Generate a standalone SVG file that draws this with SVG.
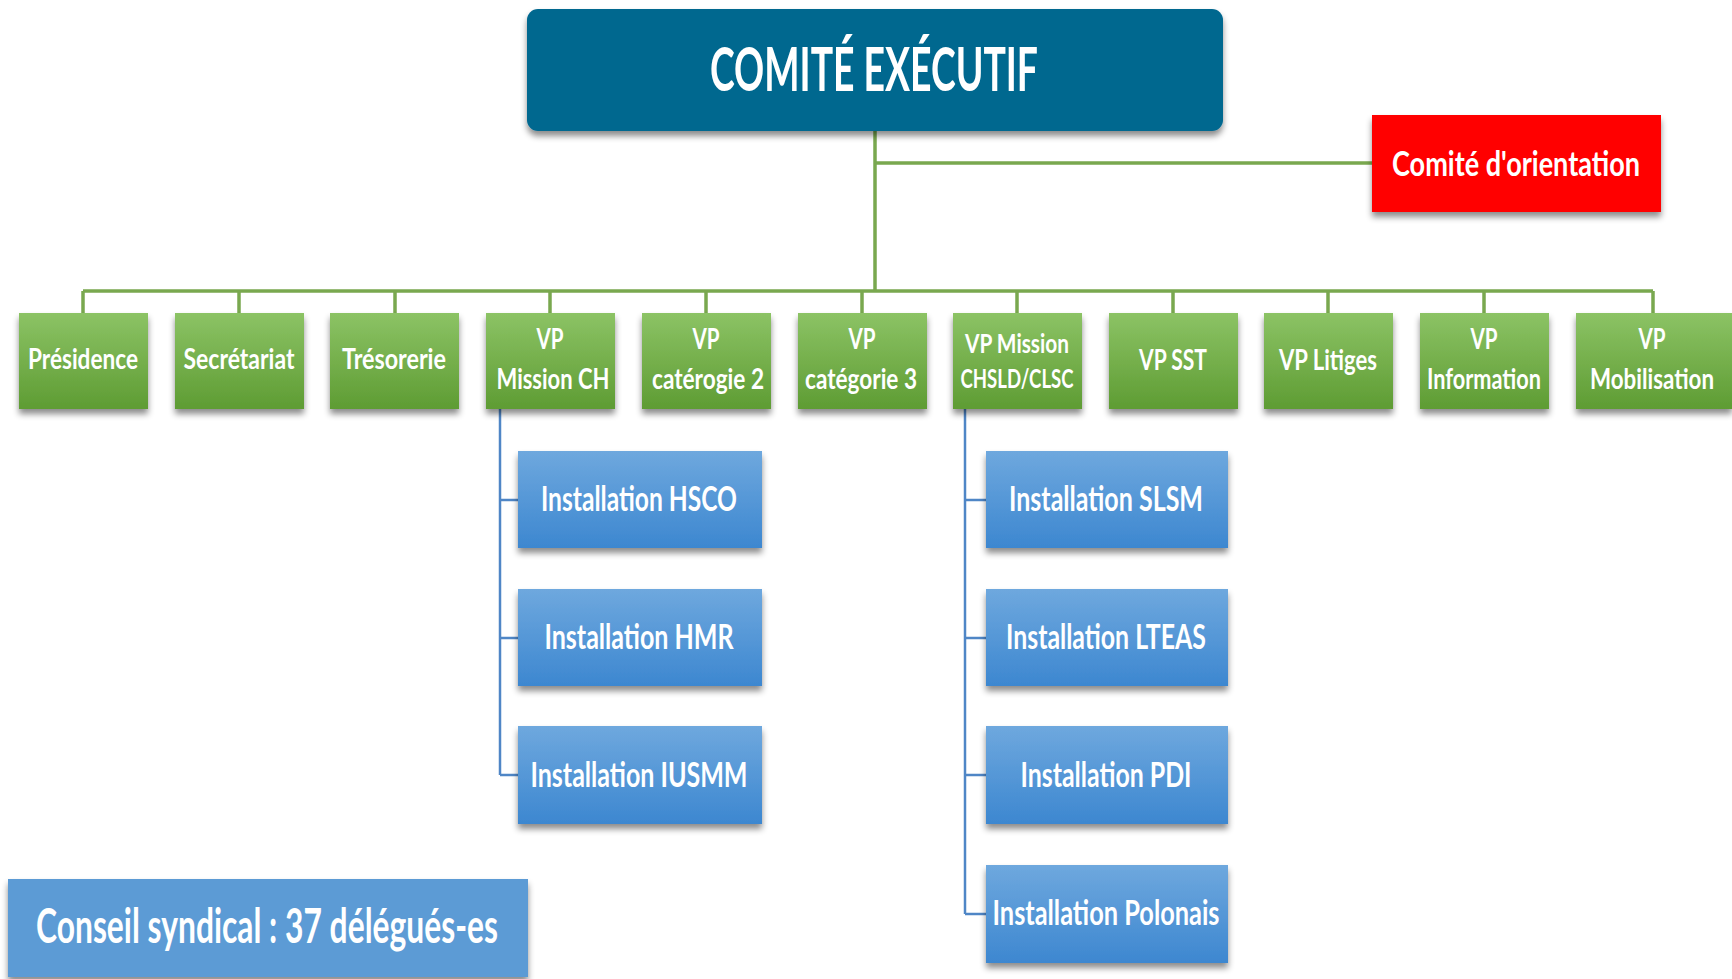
<svg xmlns="http://www.w3.org/2000/svg" width="1732" height="979" viewBox="0 0 1732 979">
<defs>
<linearGradient id="gGreen" x1="0" y1="0" x2="0" y2="1">
<stop offset="0" stop-color="#8cc365"/>
<stop offset="1" stop-color="#5e9c33"/>
</linearGradient>
<linearGradient id="gBlue" x1="0" y1="0" x2="0" y2="1">
<stop offset="0" stop-color="#6ea8de"/>
<stop offset="1" stop-color="#3d87d0"/>
</linearGradient>
<filter id="sh" x="-10%" y="-10%" width="120%" height="130%">
<feDropShadow dx="0" dy="5" stdDeviation="3" flood-color="#000" flood-opacity="0.45"/>
</filter>
<style>
text{font-family:Lato,"Open Sans","Liberation Sans",sans-serif;font-weight:700;fill:#fff;text-anchor:middle}
.g{fill:url(#gGreen);filter:url(#sh)}
.b{fill:url(#gBlue);filter:url(#sh)}
.gt{font-size:28px}
.bt{font-size:34px}
.cg{stroke:#79a84f;stroke-width:3.5;fill:none}
.cb{stroke:#4f86c6;stroke-width:2.5;fill:none}
</style>
</defs>
<rect width="1732" height="979" fill="#fff"/>
<g id="connectors">
<path class="cg" d="M875 131V291M875 163H1372M83 291H1653"/>
<path class="cg" d="M83 291V313M239 291V313M395 291V313M550 291V313M706 291V313M862 291V313M1017 291V313M1173 291V313M1328 291V313M1484 291V313M1653 291V313"/>
<path class="cb" d="M500 409V775M500 500H518M500 638H518M500 775H518"/>
<path class="cb" d="M965 409V914M965 500H986M965 638H986M965 775H986M965 914H986"/>
</g>
<g id="comite-executif">
<rect x="527" y="9" width="696" height="122" rx="11" fill="#05678f" filter="url(#sh)"/>
<text x="874" y="91" font-size="62" textLength="328" lengthAdjust="spacingAndGlyphs">COMITÉ EXÉCUTIF</text>
</g>
<g id="comite-orientation">
<rect x="1372" y="115" width="289" height="97" fill="#ff0000" filter="url(#sh)"/>
<text x="1516" y="176" font-size="35" textLength="248" lengthAdjust="spacingAndGlyphs">Comité d'orientation</text>
</g>
<g id="presidence">
<rect class="g" x="19" y="313" width="129" height="96"/>
<text class="gt" x="83" y="369" textLength="110" lengthAdjust="spacingAndGlyphs">Présidence</text>
</g>
<g id="secretariat">
<rect class="g" x="175" y="313" width="129" height="96"/>
<text class="gt" x="239" y="369" textLength="111" lengthAdjust="spacingAndGlyphs">Secrétariat</text>
</g>
<g id="tresorerie">
<rect class="g" x="330" y="313" width="129" height="96"/>
<text class="gt" x="394" y="369" textLength="104" lengthAdjust="spacingAndGlyphs">Trésorerie</text>
</g>
<g id="vp-mission-ch">
<rect class="g" x="486" y="313" width="129" height="96"/>
<text class="gt" x="550" y="349" textLength="27" lengthAdjust="spacingAndGlyphs">VP</text>
<text class="gt" x="553" y="389" textLength="113" lengthAdjust="spacingAndGlyphs">Mission CH</text>
</g>
<g id="vp-categorie-2">
<rect class="g" x="642" y="313" width="129" height="96"/>
<text class="gt" x="706" y="349" textLength="27" lengthAdjust="spacingAndGlyphs">VP</text>
<text class="gt" x="708" y="389" textLength="112" lengthAdjust="spacingAndGlyphs">catérogie 2</text>
</g>
<g id="vp-categorie-3">
<rect class="g" x="798" y="313" width="129" height="96"/>
<text class="gt" x="862" y="349" textLength="27" lengthAdjust="spacingAndGlyphs">VP</text>
<text class="gt" x="861" y="389" textLength="112" lengthAdjust="spacingAndGlyphs">catégorie 3</text>
</g>
<g id="vp-mission-chsld">
<rect class="g" x="953" y="313" width="129" height="96"/>
<text x="1017" y="353" font-size="26" textLength="104" lengthAdjust="spacingAndGlyphs">VP Mission</text>
<text x="1017" y="388" font-size="26" textLength="113" lengthAdjust="spacingAndGlyphs">CHSLD/CLSC</text>
</g>
<g id="vp-sst">
<rect class="g" x="1109" y="313" width="129" height="96"/>
<text class="gt" x="1173" y="370" textLength="68" lengthAdjust="spacingAndGlyphs">VP SST</text>
</g>
<g id="vp-litiges">
<rect class="g" x="1264" y="313" width="129" height="96"/>
<text class="gt" x="1328" y="370" textLength="98" lengthAdjust="spacingAndGlyphs">VP Litiges</text>
</g>
<g id="vp-information">
<rect class="g" x="1420" y="313" width="129" height="96"/>
<text class="gt" x="1484" y="349" textLength="27" lengthAdjust="spacingAndGlyphs">VP</text>
<text class="gt" x="1484" y="389" textLength="114" lengthAdjust="spacingAndGlyphs">Information</text>
</g>
<g id="vp-mobilisation">
<rect class="g" x="1576" y="313" width="156" height="96"/>
<text class="gt" x="1652" y="349" textLength="27" lengthAdjust="spacingAndGlyphs">VP</text>
<text class="gt" x="1652" y="389" textLength="124" lengthAdjust="spacingAndGlyphs">Mobilisation</text>
</g>
<g id="installation-hsco">
<rect class="b" x="518" y="451" width="244" height="97"/>
<text class="bt" x="639" y="511" textLength="196" lengthAdjust="spacingAndGlyphs">Installation HSCO</text>
</g>
<g id="installation-hmr">
<rect class="b" x="518" y="589" width="244" height="97"/>
<text class="bt" x="639" y="649" textLength="189" lengthAdjust="spacingAndGlyphs">Installation HMR</text>
</g>
<g id="installation-iusmm">
<rect class="b" x="518" y="726" width="244" height="98"/>
<text class="bt" x="639" y="787" textLength="217" lengthAdjust="spacingAndGlyphs">Installation IUSMM</text>
</g>
<g id="installation-slsm">
<rect class="b" x="986" y="451" width="242" height="97"/>
<text class="bt" x="1106" y="511" textLength="194" lengthAdjust="spacingAndGlyphs">Installation SLSM</text>
</g>
<g id="installation-lteas">
<rect class="b" x="986" y="589" width="242" height="97"/>
<text class="bt" x="1106" y="649" textLength="200" lengthAdjust="spacingAndGlyphs">Installation LTEAS</text>
</g>
<g id="installation-pdi">
<rect class="b" x="986" y="726" width="242" height="98"/>
<text class="bt" x="1106" y="787" textLength="171" lengthAdjust="spacingAndGlyphs">Installation PDI</text>
</g>
<g id="installation-polonais">
<rect class="b" x="986" y="865" width="242" height="98"/>
<text class="bt" x="1106" y="925" textLength="227" lengthAdjust="spacingAndGlyphs">Installation Polonais</text>
</g>
<g id="conseil-syndical">
<rect x="8" y="879" width="520" height="98" fill="#5b9bd5" filter="url(#sh)"/>
<text x="267" y="943" font-size="48" textLength="462" lengthAdjust="spacingAndGlyphs">Conseil syndical : 37 délégués-es</text>
</g>
</svg>
